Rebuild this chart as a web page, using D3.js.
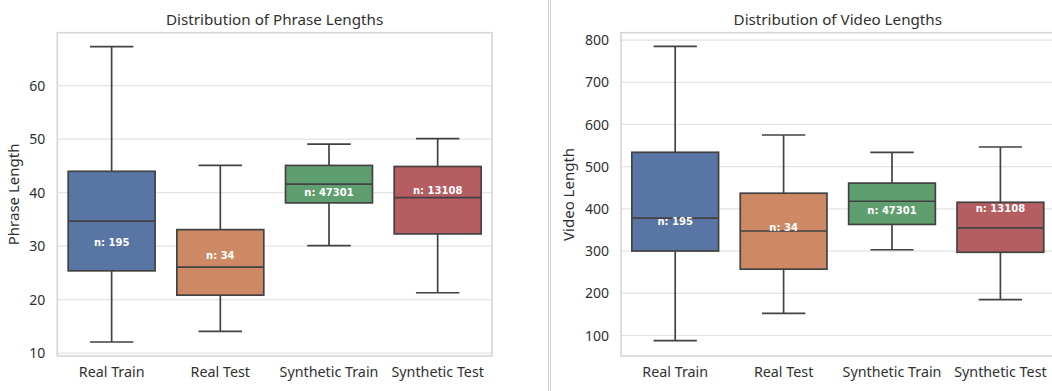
<!DOCTYPE html>
<html><head><meta charset="utf-8">
<script src="https://cdn.jsdelivr.net/npm/d3@7"></script>
<style>body{margin:0;background:#fff;} svg{display:block;} text{font-family:"Noto Sans",sans-serif;}</style>
</head><body>
<svg id="c" width="1052" height="391"></svg>
<script>
const categories = ["Real Train", "Real Test", "Synthetic Train", "Synthetic Test"];
const colors = ["#5875a4", "#cc8963", "#5f9e6e", "#b55d60"];
const counts = [195, 34, 47301, 13108];

// Phrase lengths: [whiskerLow, Q1, median, Q3, whiskerHigh]
const phraseLow    = [12, 14, 30, 21.2];
const phraseQ1     = [25.3, 20.75, 38, 32.2];
const phraseMedian = [34.6, 26, 41.5, 39];
const phraseQ3     = [43.9, 33, 45, 44.8];
const phraseHigh   = [67.2, 45, 49, 50];
const phraseMean   = [30.6, 28.2, 40.0, 40.3];
const phraseTicks  = [10, 20, 30, 40, 50, 60];

// Video lengths
const videoLow    = [86.5, 151, 302, 184];
const videoQ1     = [299, 256, 362, 296];
const videoMedian = [377, 346.5, 417, 354];
const videoQ3     = [533, 436, 460, 414.5];
const videoHigh   = [784, 574, 533, 545.5];
const videoMean   = [369, 354, 396, 399];
const videoTicks  = [100, 200, 300, 400, 500, 600, 700, 800];

const svg = d3.select("#c");

function panel(cfg) {
  const g = svg.append("g");
  const x = d3.scaleBand().domain(categories).range([cfg.x0, cfg.x1]).paddingInner(0).paddingOuter(0);
  const y = d3.scaleLinear().domain(cfg.domain).range([356, 32.7]);
  const bw = x.bandwidth() * 0.8;

  const yAxis = d3.axisLeft(y).tickValues(cfg.ticks).tickSize(-(cfg.x1 - cfg.x0)).tickPadding(12).tickFormat(d3.format("d"));
  const ga = g.append("g").attr("transform", `translate(${cfg.x0},0)`).call(yAxis);
  ga.select(".domain").remove();
  ga.selectAll(".tick line").attr("stroke", "#e3e3e3").attr("stroke-width", 1.2);
  ga.selectAll(".tick text").attr("fill", "#303030").style("font-size", "14px").style("font-family", "Noto Sans").attr("x", -12).attr("dy", "0.36em");

  g.append("rect").attr("x", cfg.x0).attr("y", 32.7).attr("width", cfg.x1 - cfg.x0).attr("height", 356 - 32.7)
    .attr("fill", "none").attr("stroke", "#d6d6d6").attr("stroke-width", 1.6);

  const xAxis = d3.axisBottom(x).tickSize(0).tickPadding(11);
  const gx = g.append("g").attr("transform", "translate(0,356)").call(xAxis);
  gx.select(".domain").remove();
  gx.selectAll(".tick text").attr("fill", "#303030").style("font-size", "14.3px").style("font-family", "Noto Sans");

  const lc = "#424242";
  const sw = 1.7;
  categories.forEach((c, i) => {
    const cx = x(c) + x.bandwidth() / 2;
    g.append("line").attr("x1", cx).attr("x2", cx).attr("y1", y(cfg.q3[i])).attr("y2", y(cfg.high[i])).attr("stroke", lc).attr("stroke-width", sw);
    g.append("line").attr("x1", cx).attr("x2", cx).attr("y1", y(cfg.q1[i])).attr("y2", y(cfg.low[i])).attr("stroke", lc).attr("stroke-width", sw);
    g.append("line").attr("x1", cx - bw / 4).attr("x2", cx + bw / 4).attr("y1", y(cfg.high[i])).attr("y2", y(cfg.high[i])).attr("stroke", lc).attr("stroke-width", sw);
    g.append("line").attr("x1", cx - bw / 4).attr("x2", cx + bw / 4).attr("y1", y(cfg.low[i])).attr("y2", y(cfg.low[i])).attr("stroke", lc).attr("stroke-width", sw);
    g.append("rect").attr("x", cx - bw / 2).attr("width", bw).attr("y", y(cfg.q3[i])).attr("height", y(cfg.q1[i]) - y(cfg.q3[i]))
      .attr("fill", colors[i]).attr("stroke", lc).attr("stroke-width", sw);
    g.append("line").attr("x1", cx - bw / 2).attr("x2", cx + bw / 2).attr("y1", y(cfg.med[i])).attr("y2", y(cfg.med[i])).attr("stroke", lc).attr("stroke-width", sw);
    g.append("text").attr("x", cx).attr("y", y(cfg.mean[i])).attr("dy", "0.36em").attr("text-anchor", "middle")
      .attr("fill", "#fff").style("font-family", "DejaVu Sans").style("font-size", "10px").style("font-weight", "bold").text("n: " + counts[i]);
  });

  g.append("text").attr("x", (cfg.x0 + cfg.x1) / 2).attr("y", 25).attr("text-anchor", "middle")
    .attr("fill", "#303030").style("font-size", "15.2px").text(cfg.title);
  g.append("text").attr("transform", `translate(${cfg.ylx},194.4) rotate(-90)`).attr("text-anchor", "middle")
    .attr("fill", "#303030").style("font-size", "15px").text(cfg.ylabel);
}

panel({x0: 57.3, x1: 492, domain: [9.38, 69.81], ticks: phraseTicks, low: phraseLow, q1: phraseQ1, med: phraseMedian, q3: phraseQ3, high: phraseHigh, mean: phraseMean,
  title: "Distribution of Phrase Lengths", ylabel: "Phrase Length", ylx: 18.5});
panel({x0: 621, x1: 1054.6, domain: [50.2, 816.4], ticks: videoTicks, low: videoLow, q1: videoQ1, med: videoMedian, q3: videoQ3, high: videoHigh, mean: videoMean,
  title: "Distribution of Video Lengths", ylabel: "Video Length", ylx: 573.5});

svg.append("line").attr("x1", 548.5).attr("x2", 548.5).attr("y1", 0).attr("y2", 391).attr("stroke", "#cfcfcf").attr("stroke-width", 1);
svg.append("line").attr("x1", 550.5).attr("x2", 550.5).attr("y1", 0).attr("y2", 391).attr("stroke", "#cfcfcf").attr("stroke-width", 1);
</script>
</body></html>
